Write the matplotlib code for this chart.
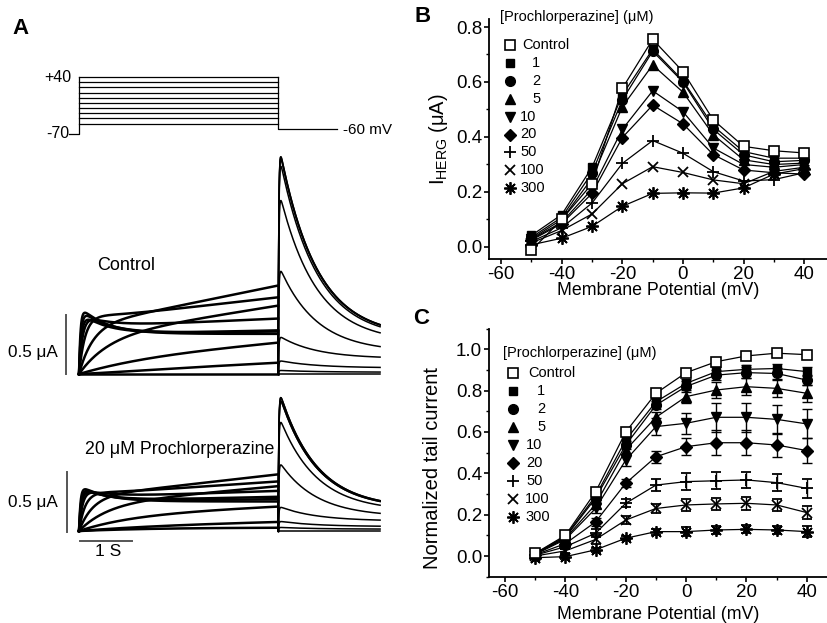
import numpy as np
import matplotlib.pyplot as plt
from matplotlib.ticker import MultipleLocator

plt.rcParams['font.family'] = ['Liberation Sans', 'DejaVu Sans']
plt.rcParams['axes.unicode_minus'] = False
plt.rcParams['mathtext.fontset'] = 'custom'
plt.rcParams['mathtext.rm'] = 'Liberation Sans'

W, H = 828, 623
fig = plt.figure(figsize=(W / 100, H / 100), dpi=100)


def box(x0, y0, x1, y1):
    # pixel box (origin top-left) -> figure fraction
    return [x0 / W, 1 - y1 / H, (x1 - x0) / W, (y1 - y0) / H]


def ftext(x, y, s, **kw):
    fig.text(x / W, 1 - y / H, s, **kw)


# ---------------- data ----------------
volts = [-50, -40, -30, -20, -10, 0, 10, 20, 30, 40]
conc_labels = ['Control', '1', '2', '5', '10', '20', '50', '100', '300']

# B: current at end of the test pulse (uA)
b_ctrl = [-0.012, 0.10, 0.23, 0.577, 0.755, 0.638, 0.462, 0.366, 0.350, 0.342]
b_1 = [0.042, 0.118, 0.290, 0.553, 0.719, 0.605, 0.440, 0.347, 0.323, 0.323]
b_2 = [0.035, 0.108, 0.270, 0.535, 0.712, 0.600, 0.428, 0.335, 0.310, 0.315]
b_5 = [0.030, 0.100, 0.250, 0.510, 0.662, 0.563, 0.408, 0.317, 0.300, 0.305]
b_10 = [0.028, 0.090, 0.210, 0.428, 0.568, 0.492, 0.360, 0.300, 0.290, 0.300]
b_20 = [0.025, 0.085, 0.195, 0.398, 0.516, 0.448, 0.336, 0.280, 0.270, 0.265]
b_50 = [0.020, 0.070, 0.160, 0.304, 0.387, 0.341, 0.274, 0.240, 0.245, 0.270]
b_100 = [0.015, 0.060, 0.120, 0.230, 0.292, 0.271, 0.244, 0.230, 0.275, 0.290]
b_300 = [0.008, 0.032, 0.075, 0.148, 0.195, 0.197, 0.196, 0.215, 0.265, 0.285]

# C: normalized tail current, mean and error
c_ctrl = [0.013, 0.100, 0.310, 0.600, 0.787, 0.887, 0.940, 0.968, 0.981, 0.974]
c_1 = [0.012, 0.095, 0.290, 0.561, 0.746, 0.835, 0.892, 0.903, 0.907, 0.892]
c_2 = [0.010, 0.090, 0.280, 0.537, 0.730, 0.820, 0.875, 0.887, 0.883, 0.851]
c_5 = [0.010, 0.085, 0.250, 0.513, 0.671, 0.771, 0.803, 0.819, 0.811, 0.787]
c_10 = [0.008, 0.080, 0.230, 0.464, 0.626, 0.642, 0.671, 0.671, 0.661, 0.639]
c_20 = [0.006, 0.060, 0.165, 0.352, 0.480, 0.529, 0.548, 0.548, 0.537, 0.510]
c_50 = [0.004, 0.045, 0.110, 0.255, 0.343, 0.360, 0.364, 0.368, 0.355, 0.327]
c_100 = [0.000, 0.025, 0.080, 0.174, 0.230, 0.247, 0.252, 0.255, 0.247, 0.210]
c_300 = [-0.008, -0.003, 0.030, 0.086, 0.118, 0.118, 0.126, 0.129, 0.126, 0.118]

e_ctrl = [0.010, 0.010, 0.020, 0.020, 0.015, 0.020, 0.015, 0.010, 0.010, 0.010]
e_1 = [0.010, 0.010, 0.020, 0.020, 0.020, 0.020, 0.020, 0.020, 0.020, 0.020]
e_2 = [0.010, 0.010, 0.020, 0.020, 0.020, 0.025, 0.025, 0.025, 0.025, 0.025]
e_5 = [0.010, 0.010, 0.020, 0.020, 0.025, 0.030, 0.040, 0.040, 0.040, 0.040]
e_10 = [0.005, 0.010, 0.020, 0.030, 0.040, 0.050, 0.070, 0.070, 0.070, 0.070]
e_20 = [0.005, 0.010, 0.020, 0.020, 0.030, 0.040, 0.060, 0.060, 0.060, 0.060]
e_50 = [0.005, 0.010, 0.020, 0.020, 0.030, 0.040, 0.040, 0.040, 0.040, 0.045]
e_100 = [0.005, 0.010, 0.020, 0.020, 0.020, 0.030, 0.030, 0.030, 0.030, 0.030]
e_300 = [0.005, 0.010, 0.010, 0.010, 0.015, 0.020, 0.020, 0.020, 0.020, 0.025]

# A: voltage protocol (mV, s)
step_levels = [-50, -40, -30, -20, -10, 0, 10, 20, 30, 40]
v_hold, v_tail = -70, -60
t_step, t_tail = 3.83, 1.96
t_proto_start, t_proto_end = -0.2, 4.96

# A: example current records, read per test potential (uA, s)
tr_end_ctrl = [0.00, 0.10, 0.27, 0.58, 0.75, 0.65, 0.47, 0.37, 0.36, 0.34]
tr_fast_ctrl = [0.00, 0.00, 0.00, 0.00, 0.00, 0.05, 0.12, 0.20, 0.22, 0.24]
tr_slope_ctrl = [0.00, 0.02, 0.04, 0.07, 0.09, 0.05, 0.02, 0.01, 0.005, 0.0]
tr_tail_ctrl = [0.00, 0.03, 0.11, 0.31, 0.87, 1.47, 1.76, 1.82, 1.84, 1.84]

tr_end_drug = [0.03, 0.08, 0.21, 0.38, 0.48, 0.42, 0.34, 0.29, 0.27, 0.25]
tr_fast_drug = [0.00, 0.00, 0.00, 0.00, 0.00, 0.03, 0.08, 0.12, 0.13, 0.14]
tr_slope_drug = [0.00, 0.01, 0.02, 0.04, 0.05, 0.03, 0.015, 0.01, 0.005, 0.0]
tr_tail_drug = [0.00, 0.03, 0.08, 0.20, 0.56, 0.92, 1.10, 1.13, 1.13, 1.10]

tau_act = [1.5, 1.2, 0.9, 0.5, 0.25, 0.12, 0.07, 0.05, 0.04, 0.03]
tail_floor = [0.5, 0.5, 0.45, 0.4, 0.2, 0.17, 0.16, 0.16, 0.16, 0.16]
tau_inact, tau_deact, tau_rec = 0.5, 0.7, 0.012

# ---------------- panel A ----------------
px_per_s = 52.0
t_left, t_right = -79 / px_per_s, (400 - 79) / px_per_s

axp = fig.add_axes(box(0, 60, 400, 150))
axp.set_xlim(t_left, t_right)
axp.set_ylim(-100.9, 72.8)
axp.axis('off')
for v in step_levels:
    axp.plot([0, t_step], [v, v], color='k', lw=0.9)
axp.plot([t_proto_start, 0, 0], [v_hold, v_hold, max(step_levels)], color='k', lw=0.9)
axp.plot([t_step, t_step, t_proto_end], [max(step_levels), v_tail, v_tail], color='k', lw=0.9)


def draw_records(ax, ends, fasts, slopes, tails):
    ts = np.linspace(0, t_step, 800)
    tt = np.linspace(0, t_tail, 600)
    for i in range(len(step_levels)):
        act = 1 - np.exp(-ts / tau_act[i])
        base = ends[i] - slopes[i] * t_step
        i_step = act * (fasts[i] * np.exp(-ts / tau_inact) + base + slopes[i] * ts)
        f = tail_floor[i]
        shape = (f + (1 - f) * np.exp(-tt / tau_deact)) * (1 - np.exp(-tt / tau_rec))
        i_tail = tails[i] * shape / shape.max()
        ax.plot(ts, i_step, color='k', lw=1.8)
        ax.plot(t_step + tt, i_tail, color='k', lw=1.1)
        ax.plot([t_step, t_step], [i_step[-1], 0], color='k', lw=0.9)


axc = fig.add_axes(box(0, 140, 400, 385))
axc.set_xlim(t_left, t_right)
axc.set_ylim(-0.093, 1.983)
axc.axis('off')
draw_records(axc, tr_end_ctrl, tr_fast_ctrl, tr_slope_ctrl, tr_tail_ctrl)
axc.plot([-0.25, -0.25], [0, 0.5], color='#555555', lw=1.4)

axd = fig.add_axes(box(0, 385, 400, 565))
axd.set_xlim(t_left, t_right)
axd.set_ylim(-0.288, 1.237)
axd.axis('off')
draw_records(axd, tr_end_drug, tr_fast_drug, tr_slope_drug, tr_tail_drug)
axd.plot([-0.24, -0.24], [-0.01, 0.5], color='#555555', lw=1.4)
axd.plot([0.02, 1.02], [-0.085, -0.085], color='#555555', lw=1.4)

ftext(12, 28, 'A', fontsize=16, fontweight='bold', va='center')
ftext(71, 77, '+40', fontsize=11.5, ha='right', va='center')
ftext(69, 134, '-70', fontsize=11.5, ha='right', va='center')
ftext(343, 130, '-60 mV', fontsize=11, ha='left', va='center')
ftext(97, 265, 'Control', fontsize=13, ha='left', va='center')
ftext(58, 353, '0.5 μA', fontsize=12.3, ha='right', va='center')
ftext(85, 450, '20 μM Prochlorperazine', fontsize=12.8, ha='left', va='center')
ftext(58, 502, '0.5 μA', fontsize=12.3, ha='right', va='center')
ftext(108, 552, '1 S', fontsize=12.5, ha='center', va='center')

# ---------------- panels B and C ----------------
styles = [
    dict(marker='s', ms=7, mfc='white', mec='k', mew=1.2),
    dict(marker='s', ms=6, mfc='k', mec='k'),
    dict(marker='o', ms=7, mfc='k', mec='k'),
    dict(marker='^', ms=7.5, mfc='k', mec='k'),
    dict(marker='v', ms=7.5, mfc='k', mec='k'),
    dict(marker='D', ms=6.2, mfc='k', mec='k'),
    dict(marker='+', ms=9, mec='k', mew=1.3),
    dict(marker='x', ms=7, mec='k', mew=1.3),
    dict(marker=(8, 2, 0), ms=9, mec='k', mew=1.3),
]
b_series = [b_ctrl, b_1, b_2, b_5, b_10, b_20, b_50, b_100, b_300]
c_series = [c_ctrl, c_1, c_2, c_5, c_10, c_20, c_50, c_100, c_300]
c_errs = [e_ctrl, e_1, e_2, e_5, e_10, e_20, e_50, e_100, e_300]


def style_axes(ax, ymaj):
    for s in ['top', 'right']:
        ax.spines[s].set_visible(False)
    for s in ['left', 'bottom']:
        ax.spines[s].set_linewidth(1.3)
    ax.xaxis.set_major_locator(MultipleLocator(20))
    ax.xaxis.set_minor_locator(MultipleLocator(10))
    ax.yaxis.set_major_locator(MultipleLocator(ymaj))
    ax.yaxis.set_minor_locator(MultipleLocator(ymaj / 2))
    ax.tick_params(which='major', direction='out', length=3.5, width=1.2, labelsize=13.5, pad=1.5)
    ax.tick_params(which='minor', direction='out', length=2.2, width=1.0)
    ax.yaxis.set_major_formatter(plt.FuncFormatter(lambda v, p: f'{v:.1f}'))


def manual_legend(x_mark, x_text, y_title, y_rows):
    ftext(x_mark - 10, y_title, '[Prochlorperazine] (μM)', fontsize=10.5, ha='left', va='center')
    for i, lab in enumerate(conc_labels):
        st = dict(styles[i])
        fig.lines.append(plt.Line2D([x_mark / W], [1 - y_rows[i] / H], transform=fig.transFigure,
                                    linestyle='none', **st))
        ftext(x_text[i], y_rows[i], lab, fontsize=10.5, ha='left', va='center')


axb = fig.add_axes(box(489, 18.75, 828, 259.1))
for i in range(len(b_series))[::-1]:
    axb.plot(volts, b_series[i], color='k', lw=0.9, zorder=3 + (i == 0), **styles[i])
axb.set_xlim(-64.0, 47.85)
axb.set_ylim(-0.044, 0.83)
style_axes(axb, 0.2)
axb.set_xlabel('Membrane Potential (mV)', fontsize=12.8, labelpad=-1)
axb.set_ylabel(r'I$_{\mathrm{HERG}}$ (μA)', fontsize=14.5, labelpad=4)
ftext(415, 17, 'B', fontsize=16, fontweight='bold', va='center')
rows_b = [45 + 17.9 * k for k in range(9)]
manual_legend(510, [522, 532, 532, 532, 520, 520, 520, 520, 520], 17, rows_b)

axcc = fig.add_axes(box(489, 328.6, 828, 576.7))
for i in range(len(c_series))[::-1]:
    axcc.errorbar(volts, c_series[i], yerr=c_errs[i], color='k', lw=0.9, elinewidth=1.0,
                  capsize=3.6, capthick=1.0, zorder=3 + (i == 0), **styles[i])
axcc.set_xlim(-65.3, 47.0)
axcc.set_ylim(-0.1, 1.1)
style_axes(axcc, 0.2)
axcc.set_xlabel('Membrane Potential (mV)', fontsize=12.8, labelpad=4)
axcc.set_ylabel('Normalized tail current', fontsize=14.5, labelpad=4)
axcc.yaxis.set_label_coords(-0.14, 0.44)
ftext(413, 318, 'C', fontsize=16, fontweight='bold', va='center')
rows_c = [372.7 + 18 * k for k in range(9)]
manual_legend(513, [528, 537, 537, 537, 526, 526, 526, 525, 525], 353, rows_c)

fig.savefig('out.png', dpi=100)
